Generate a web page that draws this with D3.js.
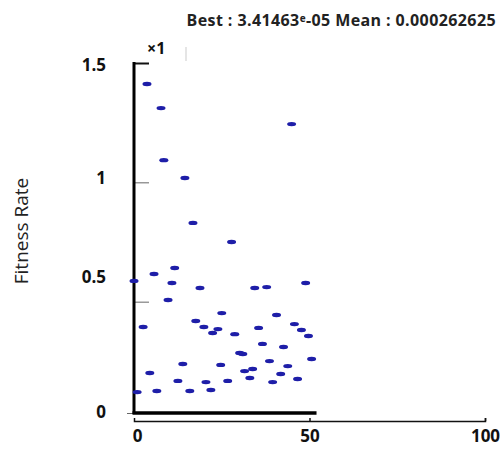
<!DOCTYPE html>
<html>
<head>
<meta charset="utf-8">
<script src="https://cdn.jsdelivr.net/npm/d3@7"></script>
<style>
  body { margin: 0; background: #fff; }
  svg { display: block; font-family: "Open Sans", "DejaVu Sans", sans-serif; }
</style>
</head>
<body>
<svg id="chart" width="500" height="449"></svg>
<script>
// iteration index of each individual
const iterations = [3.7, 7.7, 8.5, 14.5, 16.8, 27.8, 44.9, 0, 5.7, 11.6, 10.8, 18.8, 9.7, 34.4, 37.8, 48.9,
    25.0, 17.6, 2.6, 19.9, 23.9, 22.4, 28.7, 35.5, 40.6, 45.7, 47.7, 49.7, 36.6, 42.6, 30.1, 31.0,
    50.6, 38.6, 43.8, 13.9, 24.7, 4.5, 31.5, 33.8, 41.8, 33.0, 46.6, 12.5, 20.5, 26.7, 39.5,
    0.9, 6.5, 15.9, 21.9];
// fitness of each individual
const fitness = [1.412, 1.311, 1.093, 1.018, 0.830, 0.750, 1.244, 0.587, 0.616, 0.641, 0.578, 0.557, 0.507, 0.557, 0.561, 0.578,
    0.452, 0.419, 0.394, 0.394, 0.385, 0.369, 0.364, 0.390, 0.444, 0.406, 0.381, 0.356, 0.323, 0.310, 0.285, 0.281,
    0.260, 0.251, 0.230, 0.239, 0.235, 0.201, 0.209, 0.218, 0.197, 0.180, 0.176, 0.168, 0.163, 0.168, 0.163,
    0.121, 0.126, 0.126, 0.130];
const xTicks = [0, 50, 100];
const yTicks = [0, 0.5, 1, 1.5];
const bestValue = "3.41463";
const bestExp = "-05";
const meanValue = "0.000262625";

const svg = d3.select("#chart");

const x = d3.scaleLinear().domain([0, 100]).range([134, 485]);
const y = d3.scaleLinear().domain([0, 1.5]).range([421, 63]);

// title
const title = svg.append("text")
    .attr("x", 496).attr("y", 26)
    .attr("text-anchor", "end")
    .attr("font-size", "16px")
    .attr("font-weight", "bold")
    .attr("letter-spacing", "0.4px")
    .attr("fill", "#222");
title.append("tspan").text("Best : " + bestValue);
title.append("tspan").text("e").attr("font-size", "10px").attr("dy", -4);
title.append("tspan").text(bestExp + " Mean : " + meanValue).attr("dy", 4);

// y label
svg.append("text")
    .attr("transform", `translate(28, 231) rotate(-90)`)
    .attr("text-anchor", "middle")
    .attr("font-size", "19px")
    .attr("fill", "#222")
    .text("Fitness Rate");

// x1 multiplier
svg.append("text")
    .attr("x", 147).attr("y", 54)
    .attr("font-size", "16px")
    .attr("font-weight", "bold")
    .attr("fill", "#111")
    .text("\u00d71");
svg.append("line")
    .attr("x1", 186).attr("x2", 186).attr("y1", 47).attr("y2", 61)
    .attr("stroke", "#ddd").attr("stroke-width", 1.5);

// y axis
const labelShift = { 0: -10, 0.5: -25, 1: -5, 1.5: 1 };
const yAxis = svg.append("g")
    .attr("transform", `translate(${x(0)}, 0)`)
    .call(d3.axisLeft(y).tickValues(yTicks).tickSize(-15).tickPadding(28).tickFormat(d3.format("")));
yAxis.select(".domain").remove();
yAxis.selectAll(".tick line")
    .attr("stroke", d => d === 1.5 ? "#111" : "#666")
    .attr("stroke-width", d => d === 1.5 ? 2 : 1)
    .attr("x2", d => d === 0 ? -7 : 15)
    .attr("transform", d => d === 0 ? "translate(0,-8)" : null);
yAxis.selectAll(".tick text")
    .attr("font-size", "17px")
    .attr("font-weight", "bold")
    .attr("fill", "#111")
    .attr("font-family", "\"Open Sans\", sans-serif")
    .attr("dy", d => (labelShift[d] + 6) + "px");

// x axis (thin full-length line)
const xAxis = svg.append("g")
    .attr("transform", `translate(0, ${y(0)})`)
    .call(d3.axisBottom(x).tickValues(xTicks).tickSize(-3).tickPadding(9));
xAxis.select(".domain")
    .attr("stroke", "#111").attr("stroke-width", 1.5);
xAxis.selectAll(".tick line").attr("stroke", "#111").attr("stroke-width", 1.5)
    .attr("display", d => d === 0 ? "none" : null);
xAxis.selectAll(".tick text")
    .attr("font-size", "17px")
    .attr("font-weight", "bold")
    .attr("fill", "#111")
    .attr("font-family", "\"Open Sans\", sans-serif")
    .attr("dx", d => d === 0 ? 3 : 0);

// thick frame lines
svg.append("line")
    .attr("x1", x(0)).attr("x2", x(0))
    .attr("y1", y(1.5) - 1).attr("y2", y(0) - 7)
    .attr("stroke", "#000").attr("stroke-width", 3);
svg.append("line")
    .attr("x1", x(0) - 1.5).attr("x2", x(52))
    .attr("y1", y(0) - 8).attr("y2", y(0) - 8)
    .attr("stroke", "#000").attr("stroke-width", 3.5);

// points
svg.append("g")
    .selectAll("ellipse")
    .data(iterations.map((d, i) => [d, fitness[i]]))
    .enter()
    .append("ellipse")
    .attr("cx", d => x(d[0]))
    .attr("cy", d => y(d[1]))
    .attr("rx", 4.5)
    .attr("ry", 2.2)
    .attr("fill", "#1e1ea8");
</script>
</body>
</html>
